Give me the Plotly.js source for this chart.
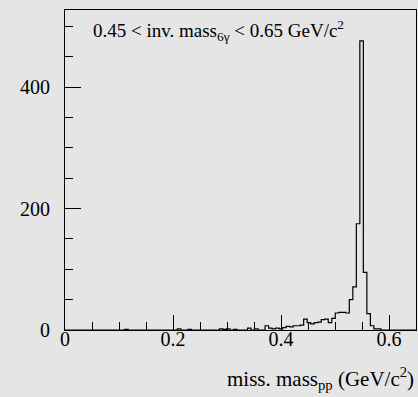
<!DOCTYPE html>
<html>
<head>
<meta charset="utf-8">
<script src="https://cdn.plot.ly/plotly-3.0.1.min.js"></script>
<style>html,body{margin:0;padding:0;background:#e5e5e5;}#chart{width:418px;height:397px;}</style>
</head>
<body>
<div id="chart"></div>
<script>
// Histogram: 100 bins from 0 to 0.65 GeV/c^2
const binStart = 0.0;
const binWidth = 0.0065;
const counts = [
  0,0,0,0,0,0,0,0,0,0,
  0,0,0,0,0,0,0,1,0,0,
  0,0,0,0,0,0,0,0,0,0,
  0,0,2,0,0,1,0,0,0,0,
  0,0,0,0,2,1,2,0,1,0,
  0,0,3,0,2,0,0,7,3,2,
  3,2,4,6,5,7,7,8,18,12,
  10,12,13,17,18,12,19,28,29,29,
  28,50,71,175,476,95,27,7,2,2,
  0,0,0,0,0,0,0,0,0,0
];
const xTicks = [0, 0.2, 0.4, 0.6];
const xTickLabels = ['0', '0.2', '0.4', '0.6'];
const yTicks = [0, 200, 400];
const yTickLabels = ['0', '200', '400'];

const xs = [], ys = [];
for (let i = 0; i < counts.length; i++) {
  xs.push(binStart + i * binWidth);
  ys.push(counts[i]);
}
xs.push(binStart + counts.length * binWidth);
ys.push(0);

const font = 'Liberation Serif, Times New Roman, serif';
const trace = {
  x: xs, y: ys, type: 'scatter', mode: 'lines',
  line: {shape: 'hv', color: '#000', width: 1.2},
  hoverinfo: 'skip', showlegend: false
};

const layout = {
  width: 418, height: 397,
  margin: {l: 65, r: 2, t: 10, b: 67},
  paper_bgcolor: '#e5e5e5', plot_bgcolor: '#e5e5e5',
  showlegend: false,
  xaxis: {
    range: [0, 0.65], showgrid: false, zeroline: false,
    showline: true, mirror: true, linecolor: '#000', linewidth: 1,
    ticks: 'inside', ticklen: 15, tickcolor: '#000', tickwidth: 1,
    tickmode: 'array', tickvals: xTicks, ticktext: xTickLabels,
    minor: {dtick: 0.05, ticks: 'inside', ticklen: 8, tickcolor: '#000', tickwidth: 1, showgrid: false},
    tickfont: {family: font, size: 20, color: '#000'},
    ticklabelstandoff: -9
  },
  yaxis: {
    range: [0, 527], showgrid: false, zeroline: false,
    showline: true, mirror: true, linecolor: '#000', linewidth: 1,
    ticks: 'inside', ticklen: 16, tickcolor: '#000', tickwidth: 1,
    tickmode: 'array', tickvals: yTicks, ticktext: yTickLabels,
    minor: {dtick: 50, ticks: 'inside', ticklen: 8, tickcolor: '#000', tickwidth: 1, showgrid: false},
    tickfont: {family: font, size: 20, color: '#000'},
    ticklabelstandoff: 10
  },
  annotations: [
    {
      xref: 'paper', yref: 'paper', x: 0.073, y: 0.985,
      xanchor: 'left', yanchor: 'top', showarrow: false,
      text: '0.45 < inv. mass<sub>6γ</sub> < 0.65 GeV/c<sup>2</sup>',
      font: {family: font, size: 19, color: '#000'}
    },
    {
      xref: 'paper', yref: 'paper', x: 1.0, y: -0.1,
      xanchor: 'right', yanchor: 'top', showarrow: false,
      text: 'miss. mass<sub>pp</sub> (GeV/c<sup>2</sup>)',
      font: {family: font, size: 21, color: '#000'}
    }
  ]
};

Plotly.newPlot('chart', [trace], layout, {displayModeBar: false, staticPlot: true});
</script>
</body>
</html>
